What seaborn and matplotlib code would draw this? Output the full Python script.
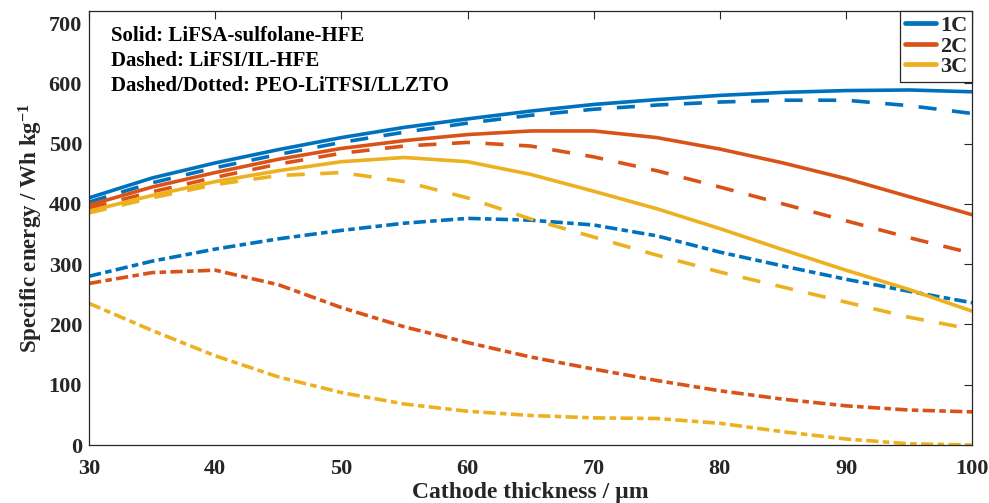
import numpy as np
import pandas as pd
import matplotlib
matplotlib.use("Agg")
import matplotlib.pyplot as plt
import seaborn as sns
from matplotlib.lines import Line2D

# ---- data ----
thickness = [30, 35, 40, 45, 50, 55, 60, 65, 70, 75, 80, 85, 90, 95, 100]

solid_1c = [410, 443, 468, 490, 510, 527, 541, 554, 565, 573, 580, 585, 588, 589, 586]
solid_2c = [398, 428, 452, 474, 492, 505, 515, 521, 521, 510, 491, 468, 442, 412, 382]
solid_3c = [388, 414, 437, 455, 470, 477, 470, 449, 421, 392, 359, 324, 290, 258, 222]

dashed_1c = [403, 435, 460, 482, 502, 519, 534, 547, 557, 564, 569, 572, 572, 563, 550]
dashed_2c = [393, 420, 444, 466, 484, 496, 502, 496, 478, 455, 428, 400, 372, 344, 318]
dashed_3c = [385, 410, 432, 447, 452, 437, 410, 375, 345, 315, 287, 262, 237, 212, 192]

dashdot_1c = [280, 305, 325, 342, 356, 368, 376, 373, 365, 347, 320, 297, 275, 255, 236]
dashdot_2c = [268, 286, 290, 266, 228, 196, 170, 146, 126, 107, 90, 76, 65, 58, 55]
dashdot_3c = [235, 190, 148, 113, 87, 68, 56, 49, 45, 44, 36, 22, 10, 2, 0]

rates = ["1C", "2C", "3C"]
electrolytes = ["LiFSA-sulfolane-HFE", "LiFSI/IL-HFE", "PEO-LiTFSI/LLZTO"]
annotations = ["Solid: LiFSA-sulfolane-HFE", "Dashed: LiFSI/IL-HFE",
               "Dashed/Dotted: PEO-LiTFSI/LLZTO"]

series = {
    ("LiFSA-sulfolane-HFE", "1C"): solid_1c,
    ("LiFSA-sulfolane-HFE", "2C"): solid_2c,
    ("LiFSA-sulfolane-HFE", "3C"): solid_3c,
    ("LiFSI/IL-HFE", "1C"): dashed_1c,
    ("LiFSI/IL-HFE", "2C"): dashed_2c,
    ("LiFSI/IL-HFE", "3C"): dashed_3c,
    ("PEO-LiTFSI/LLZTO", "1C"): dashdot_1c,
    ("PEO-LiTFSI/LLZTO", "2C"): dashdot_2c,
    ("PEO-LiTFSI/LLZTO", "3C"): dashdot_3c,
}

rows = []
for (el, r), vals in series.items():
    for x, y in zip(thickness, vals):
        rows.append({"thickness": x, "energy": y, "rate": r, "electrolyte": el})
df = pd.DataFrame(rows)

# ---- style ----
sns.set_theme(style="white")
plt.rcParams["font.family"] = ["Liberation Serif", "DejaVu Serif"]
plt.rcParams["font.weight"] = "bold"
plt.rcParams["mathtext.fontset"] = "custom"
plt.rcParams["mathtext.rm"] = "Liberation Serif:bold"
plt.rcParams["mathtext.bf"] = "Liberation Serif:bold"
plt.rcParams["mathtext.default"] = "bf"

palette = {"1C": "#0072BD", "2C": "#D95319", "3C": "#EDB120"}
dashes = {"LiFSA-sulfolane-HFE": "",
          "LiFSI/IL-HFE": (5, 4.3),
          "PEO-LiTFSI/LLZTO": (3.4, 1.2, 1.8, 1.2)}

fig = plt.figure(figsize=(9.89, 5.03), dpi=100)
ax = fig.add_axes([0.09, 0.1153, 0.893, 0.8628])

sns.lineplot(data=df, x="thickness", y="energy", hue="rate", style="electrolyte",
             palette=palette, dashes=dashes, hue_order=rates,
             style_order=electrolytes, linewidth=2.6, legend=False, ax=ax,
             sort=False, estimator=None)

ax.set_xlim(30, 100)
ax.set_ylim(0, 720)
ax.set_xticks(np.arange(30, 101, 10))
ax.set_yticks(np.arange(0, 701, 100))
ax.tick_params(axis="both", which="both", direction="in", top=True, right=True,
               length=6, width=0.8, color="#262626", labelsize=16,
               labelcolor="#262626", pad=5)
ax.tick_params(axis="x", pad=10)
for lab in ax.get_xticklabels() + ax.get_yticklabels():
    lab.set_fontweight("bold")
for s in ax.spines.values():
    s.set_color("#262626")
    s.set_linewidth(0.9)

ax.set_xlabel("Cathode thickness / µm", fontsize=17, fontweight="bold",
              color="#262626", labelpad=2)
ax.set_ylabel(r"Specific energy / Wh kg$^{-1}$", fontsize=16.5, fontweight="bold",
              color="#262626", labelpad=3)

for i, t in enumerate(annotations):
    ax.text(0.025, 0.943 - i * 0.058, t, transform=ax.transAxes, fontsize=15,
            fontweight="bold", va="center", ha="left", color="black")

handles = [Line2D([0], [0], color=palette[r], lw=3.4) for r in rates]
leg = ax.legend(handles, rates, loc="upper right", borderaxespad=0,
                fancybox=False, edgecolor="#262626", framealpha=1,
                handlelength=1.4, handletextpad=0.2,
                labelspacing=0.0, borderpad=0.2,
                prop={"weight": "bold", "size": 16})
leg.get_frame().set_linewidth(0.9)

fig.savefig("out.png", dpi=100)
